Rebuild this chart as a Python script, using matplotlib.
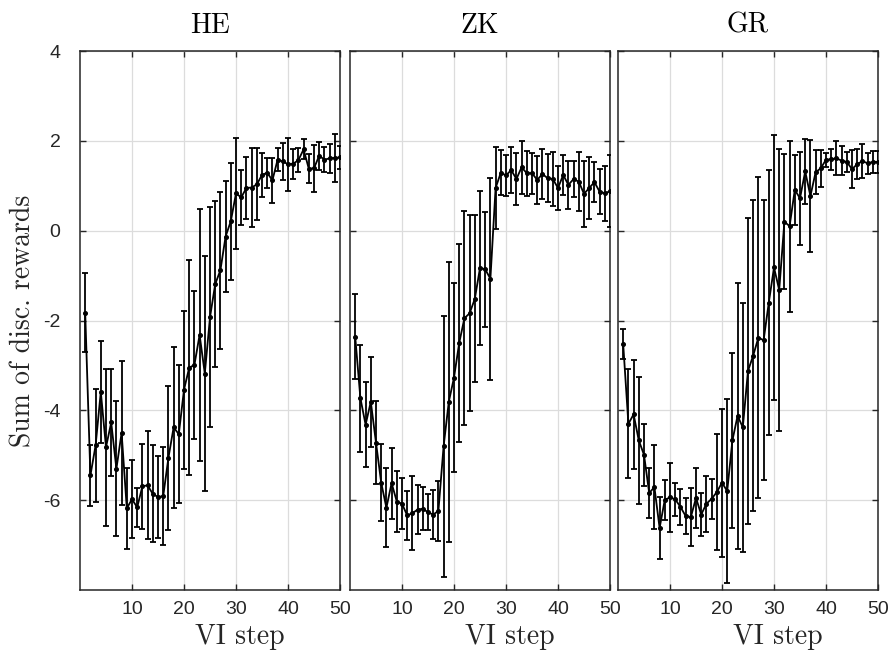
import numpy as np
import matplotlib
matplotlib.use('Agg')
import matplotlib.pyplot as plt

plt.rcParams['axes.unicode_minus'] = False
plt.rcParams['font.family'] = ['Liberation Sans', 'DejaVu Sans']

steps = np.arange(1, 51)

he_mean = [-1.83, -5.45, -4.78, -3.59, -4.82, -4.27, -5.30, -4.50, -6.18, -5.98,
           -6.16, -5.69, -5.67, -5.86, -5.93, -5.91, -5.06, -4.38, -4.53, -3.54,
           -3.05, -2.99, -2.32, -3.18, -1.93, -1.19, -0.88, -0.13, 0.21, 0.83,
           0.74, 0.95, 0.96, 1.03, 1.24, 1.29, 1.12, 1.58, 1.54, 1.48,
           1.49, 1.57, 1.81, 1.38, 1.39, 1.67, 1.58, 1.61, 1.62, 1.63]
he_err = [0.88, 0.67, 1.25, 1.14, 1.75, 1.20, 1.50, 1.60, 0.90, 0.87,
          0.44, 0.95, 1.20, 1.08, 0.91, 1.09, 1.60, 1.80, 1.54, 1.76,
          2.40, 1.65, 2.80, 2.62, 2.45, 1.85, 1.75, 1.24, 1.30, 1.23,
          0.61, 0.70, 0.88, 0.80, 0.50, 0.33, 0.50, 0.26, 0.41, 0.59,
          0.33, 0.27, 0.22, 0.32, 0.52, 0.31, 0.28, 0.33, 0.53, 0.25]

zk_mean = [-2.36, -3.73, -4.32, -3.81, -4.72, -5.61, -6.17, -5.62, -6.03, -6.08,
           -6.34, -6.29, -6.21, -6.19, -6.27, -6.32, -6.24, -4.80, -3.81, -3.27,
           -2.50, -1.95, -1.84, -1.52, -0.83, -0.86, -1.07, 0.95, 1.29, 1.23,
           1.35, 1.15, 1.41, 1.28, 1.28, 1.13, 1.26, 1.17, 1.15, 0.95,
           1.24, 1.02, 1.15, 1.09, 0.82, 0.95, 1.08, 0.87, 0.83, 0.88]
zk_err = [0.95, 1.19, 0.95, 1.00, 0.92, 0.86, 0.88, 0.79, 0.68, 0.57,
          0.55, 0.82, 0.55, 0.48, 0.40, 0.55, 0.66, 2.91, 3.12, 2.10,
          2.20, 2.38, 2.18, 1.86, 1.72, 1.28, 2.25, 0.92, 0.50, 0.46,
          0.52, 0.57, 0.59, 0.50, 0.46, 0.53, 0.55, 0.53, 0.60, 0.50,
          0.44, 0.53, 0.40, 0.66, 0.73, 0.70, 0.44, 0.50, 0.61, 0.80]

gr_mean = [-2.53, -4.30, -4.09, -4.67, -4.99, -5.84, -5.71, -6.62, -5.99, -5.94,
           -5.98, -6.15, -6.35, -6.38, -5.95, -6.32, -6.08, -5.97, -5.82, -5.61,
           -5.80, -4.67, -4.12, -4.38, -3.12, -2.78, -2.38, -2.44, -1.60, -0.82,
           -1.32, 0.20, 0.10, 0.91, 0.72, 1.32, 0.77, 1.30, 1.39, 1.58,
           1.59, 1.61, 1.56, 1.53, 1.37, 1.48, 1.55, 1.50, 1.53, 1.53]
gr_err = [0.33, 1.21, 1.22, 1.41, 0.69, 0.56, 0.94, 0.70, 0.45, 0.77,
          0.37, 0.40, 0.40, 0.64, 0.66, 0.47, 0.62, 0.45, 1.30, 1.65,
          2.05, 1.95, 2.96, 2.77, 3.40, 3.46, 3.58, 3.12, 2.94, 2.96,
          3.14, 1.50, 1.90, 0.78, 1.04, 0.73, 1.25, 0.49, 0.41, 0.16,
          0.23, 0.38, 0.32, 0.23, 0.42, 0.34, 0.38, 0.24, 0.25, 0.24]

titles = ['HE', 'ZK', 'GR']
series = [(he_mean, he_err), (zk_mean, zk_err), (gr_mean, gr_err)]

W, H = 889, 659
fig = plt.figure(figsize=(W / 100, H / 100), dpi=100)
lefts = [80, 350, 618]
ax_w, ax_top, ax_bot = 260, 51, 590

axis_col = '#262626'
for i, (title, (m, e)) in enumerate(zip(titles, series)):
    ax = fig.add_axes([lefts[i] / W, (H - ax_bot) / H, ax_w / W, (ax_bot - ax_top) / H])
    ax.errorbar(steps, m, yerr=e, color='black', lw=1.3, elinewidth=1.3,
                capsize=2.5, capthick=1.3, marker='o', markersize=2.6, zorder=3)
    ax.set_xlim(0, 50)
    ax.set_ylim(-8, 4)
    ax.set_xticks([10, 20, 30, 40, 50])
    ax.set_yticks([-6, -4, -2, 0, 2, 4])
    ax.grid(True, color='#dcdcdc', lw=0.9)
    ax.set_axisbelow(True)
    for s in ax.spines.values():
        s.set_color(axis_col)
        s.set_linewidth(1.1)
    ax.tick_params(direction='in', length=4, width=1.0, colors=axis_col,
                   labelsize=14, top=True, right=True)
    ax.tick_params(axis='x', pad=8)
    ax.tick_params(axis='y', pad=14)
    if i > 0:
        ax.set_yticklabels([])
    else:
        ax.set_ylabel('Sum of disc. rewards', fontfamily='cmr10', fontsize=20,
                      color=axis_col, labelpad=5)
    ax.set_title(title, fontfamily='cmr10', fontsize=20, color='black', pad=13)
    ax.set_xlabel('VI step', fontfamily='cmr10', fontsize=20, color=axis_col, labelpad=8)
    # the x labels sit right of the panel centre in the original
    ax.xaxis.set_label_coords(0.615, -0.062)

fig.savefig('out.png', dpi=100)
